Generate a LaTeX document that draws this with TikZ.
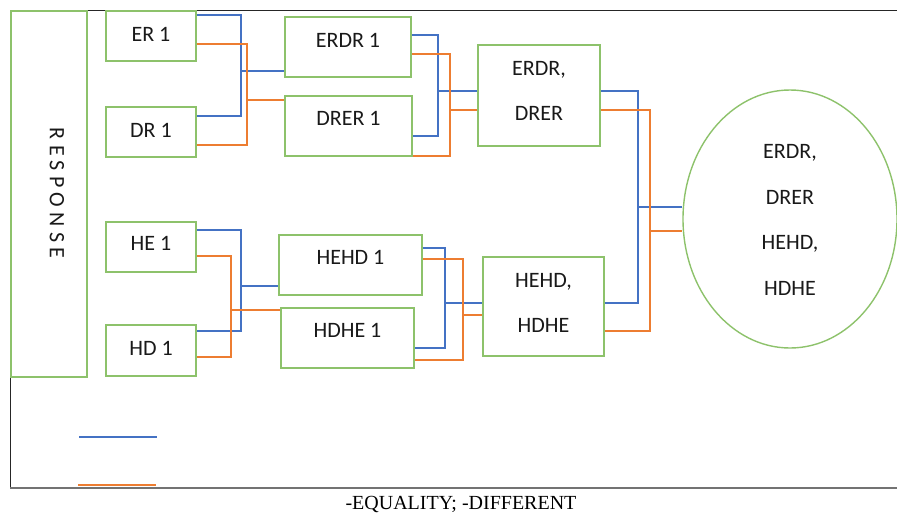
\documentclass[tikz,border=0pt]{standalone}
\usepackage{fontspec}
\setmainfont{Carlito}
\newfontfamily\capfont{Liberation Serif}
\usetikzlibrary{shapes.geometric}
\definecolor{gbox}{HTML}{8DC26B}
\definecolor{lblue}{HTML}{4472C4}
\definecolor{lorange}{HTML}{ED7D31}
\begin{document}
\begin{tikzpicture}[x=1pt,y=-1pt,
  box/.style={draw=gbox,line width=1.6pt,rectangle,inner sep=0pt},
  lbl/.style={font=\fontsize{22}{26}\selectfont,text=black!90,inner sep=0pt},
  mlbl/.style={font=\fontsize{22}{45.5}\selectfont,text=black!90,inner sep=0pt,align=center},
  bl/.style={draw=lblue,line width=1.4pt},
  orl/.style={draw=lorange,line width=1.4pt}]
\useasboundingbox (0,0) rectangle (897,515);
% frame
\draw[black!85,line width=1pt] (897,10) -- (10,10) -- (10,488);
\draw[black!55,line width=1.3pt] (10,488) -- (897,488);
% boxes
\node[box,minimum width=76pt,minimum height=366pt] (RESP) at (49,194) {};
\node[lbl,rotate=-90] (tRESP) at (57,193) {\spaceskip=5.2pt R E S P O N S E};
\node[box,minimum width=90pt,minimum height=50pt] (ER1) at (151,36) {};
\node[lbl] (tER1) at (151,34) {ER 1};
\node[box,minimum width=90pt,minimum height=50pt] (DR1) at (151,132) {};
\node[lbl] (tDR1) at (151,130) {DR 1};
\node[box,minimum width=90pt,minimum height=50pt] (HE1) at (151,247) {};
\node[lbl] (tHE1) at (151,243) {HE 1};
\node[box,minimum width=90pt,minimum height=51pt] (HD1) at (151,350.5) {};
\node[lbl] (tHD1) at (151,348) {HD 1};
\node[box,minimum width=126pt,minimum height=60pt] (ERDR1) at (348,47) {};
\node[lbl] (tERDR1) at (348,40) {ERDR 1};
\node[box,minimum width=127pt,minimum height=60pt] (DRER1) at (348.5,126) {};
\node[lbl] (tDRER1) at (348.5,118) {DRER 1};
\node[box,minimum width=143pt,minimum height=60pt] (HEHD1) at (350.5,265) {};
\node[lbl] (tHEHD1) at (350.5,257.5) {HEHD 1};
\node[box,minimum width=133pt,minimum height=60pt] (HDHE1) at (347.5,338) {};
\node[lbl] (tHDHE1) at (347.5,330.5) {HDHE 1};
\node[box,minimum width=122pt,minimum height=101pt] (ED) at (539,95.5) {};
\node[mlbl] (tED) at (539,91) {ERDR,\\DRER};
\node[box,minimum width=121pt,minimum height=99pt] (HH) at (543.5,306.5) {};
\node[mlbl] (tHH) at (543.5,303) {HEHD,\\HDHE};
\node[draw=gbox,line width=1.4pt,ellipse,inner sep=0pt,minimum width=214pt,minimum height=258pt] (ELL) at (790,219) {};
\node[mlbl] (tELL) at (790,220) {ERDR,\\DRER\\HEHD,\\HDHE};
% connectors top-left
\draw[bl] (ER1.east |- 0,15) -- (241,15) -- (241,116) -- (DR1.east |- 0,116);
\draw[bl] (241,71) -- (ERDR1.west |- 0,71);
\draw[orl] (ER1.east |- 0,44) -- (247,44) -- (247,145) -- (DR1.east |- 0,145);
\draw[orl] (247,100) -- (DRER1.west |- 0,100);
% top-mid
\draw[bl] (ERDR1.east |- 0,35) -- (438,35) -- (438,136) -- (DRER1.east |- 0,136);
\draw[bl] (438,91) -- (ED.west |- 0,91);
\draw[orl] (ERDR1.east |- 0,54) -- (450,54) -- (450,156) -- (DRER1.east |- 0,156);
\draw[orl] (450,110) -- (ED.west |- 0,110);
% right
\draw[bl] (ED.east |- 0,91) -- (638,91) -- (638,303) -- (HH.east |- 0,303);
\draw[bl] (638,207) -- (ELL.west |- 0,207);
\draw[orl] (ED.east |- 0,110) -- (650,110) -- (650,331) -- (HH.east |- 0,331);
\draw[orl] (650,231) -- (ELL.west |- 0,231);
% bottom-left
\draw[bl] (HE1.east |- 0,230) -- (241,230) -- (241,331) -- (HD1.east |- 0,331);
\draw[bl] (241,286) -- (HEHD1.west |- 0,286);
\draw[orl] (HE1.east |- 0,256) -- (231,256) -- (231,357) -- (HD1.east |- 0,357);
\draw[orl] (231,310) -- (HDHE1.west |- 0,310);
% bottom-mid
\draw[bl] (HEHD1.east |- 0,248) -- (445,248) -- (445,348) -- (HDHE1.east |- 0,348);
\draw[bl] (445,303) -- (HH.west |- 0,303);
\draw[orl] (HEHD1.east |- 0,259) -- (463,259) -- (463,360) -- (HDHE1.east |- 0,360);
\draw[orl] (463,315) -- (HH.west |- 0,315);
% legend
\coordinate (lb1) at (79,437);
\coordinate (lb2) at (157,437);
\coordinate (lo1) at (78,485);
\coordinate (lo2) at (156,485);
\draw[bl] (lb1) -- (lb2);
\draw[orl] (lo1) -- (lo2);
\node[font=\capfont\fontsize{20}{22}\selectfont,inner sep=0pt] (cap) at (461,504) {-EQUALITY; -DIFFERENT};
\end{tikzpicture}
\end{document}
